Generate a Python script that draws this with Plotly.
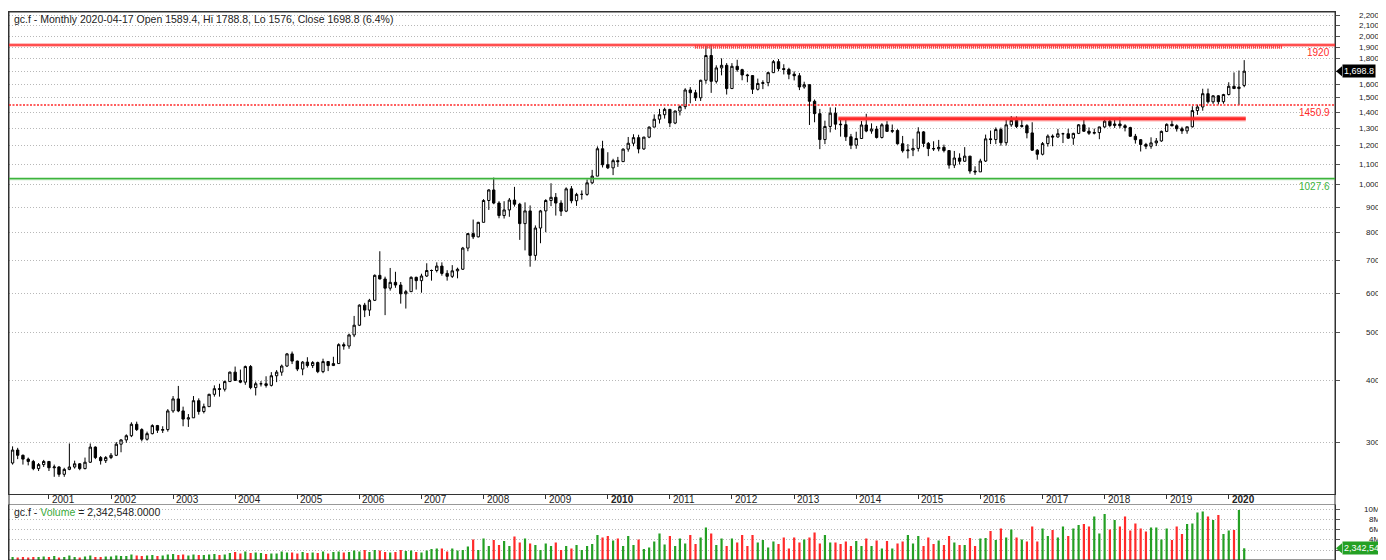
import math
import pandas as pd
import plotly.graph_objects as go

# ---------------- data (monthly gc.f, Jun 2000 .. Apr 2020) ----------------
first_month = "2000-06-01"

opens = [
    272, 289, 282, 277, 274, 265, 270,
    274, 266, 267, 258, 264, 267, 271, 265, 273, 293, 279, 275,
    279, 282, 297, 303, 309, 326, 318, 304, 312, 324, 317, 318,
    347, 367, 347, 334, 336, 364, 346, 354, 375, 385, 384, 398,
    416, 400, 397, 427, 387, 394, 394, 391, 409, 416, 428, 453,
    438, 422, 436, 429, 435, 417, 437, 429, 433, 473, 470, 495,
    518, 569, 556, 582, 654, 643, 616, 633, 625, 600, 606, 648,
    638, 652, 669, 669, 683, 660, 651, 668, 673, 743, 795, 783,
    838, 928, 975, 917, 865, 888, 930, 912, 833, 884, 718, 816,
    884, 928, 942, 917, 883, 980, 927, 955, 955, 1008, 1040, 1182,
    1097, 1081, 1118, 1113, 1180, 1213, 1245, 1181, 1248, 1308, 1357, 1386,
    1421, 1333, 1410, 1439, 1556, 1536, 1500, 1628, 1828, 1620, 1725, 1746,
    1566, 1738, 1711, 1669, 1664, 1561, 1604, 1610, 1687, 1776, 1719, 1713,
    1675, 1663, 1578, 1595, 1476, 1393, 1234, 1312, 1396, 1326, 1323, 1250,
    1202, 1240, 1321, 1284, 1296, 1246, 1322, 1282, 1287, 1210, 1171, 1175,
    1184, 1279, 1212, 1183, 1182, 1190, 1172, 1095, 1132, 1115, 1142, 1065,
    1061, 1116, 1238, 1234, 1293, 1216, 1322, 1350, 1312, 1317, 1273, 1174,
    1152, 1211, 1254, 1249, 1268, 1268, 1242, 1270, 1322, 1283, 1271, 1275,
    1309, 1345, 1318, 1327, 1316, 1305, 1253, 1233, 1206, 1196, 1215, 1226,
    1282, 1325, 1316, 1298, 1285, 1310, 1413, 1437, 1529, 1472, 1514, 1473,
    1523, 1583, 1566, 1589.4,
]
highs = [
    294, 292, 283, 279, 276, 272, 276,
    274, 270, 268, 266, 298, 275, 272, 279, 298, 294, 281, 281,
    285, 300, 304, 311, 329, 330, 320, 315, 326, 325, 323, 350,
    372, 390, 354, 342, 372, 368, 359, 376, 391, 394, 400, 417,
    427, 421, 429, 430, 398, 399, 408, 416, 420, 431, 455, 458,
    439, 438, 446, 438, 437, 443, 438, 447, 476, 478, 498, 541,
    571, 575, 586, 657, 732, 650, 677, 665, 634, 611, 651, 650,
    659, 692, 672, 695, 695, 670, 686, 678, 747, 797, 849, 840,
    934, 978, 1033, 925, 925, 939, 989, 918, 920, 907, 826, 888,
    934, 1006, 961, 929, 987, 993, 962, 973, 1024, 1071, 1195, 1227,
    1163, 1128, 1138, 1184, 1249, 1265, 1262, 1250, 1312, 1388, 1424, 1432,
    1424, 1413, 1448, 1569, 1577, 1557, 1632, 1911, 1923, 1746, 1804, 1764,
    1764, 1792, 1718, 1678, 1667, 1641, 1628, 1694, 1790, 1798, 1755, 1726,
    1697, 1684, 1617, 1598, 1488, 1424, 1348, 1434, 1434, 1362, 1362, 1267,
    1280, 1346, 1392, 1331, 1315, 1332, 1345, 1324, 1295, 1255, 1208, 1239,
    1307, 1284, 1220, 1224, 1232, 1205, 1175, 1170, 1157, 1191, 1143, 1089,
    1128, 1263, 1287, 1306, 1305, 1362, 1377, 1375, 1352, 1326, 1338, 1180,
    1220, 1264, 1264, 1297, 1274, 1298, 1274, 1327, 1362, 1306, 1299, 1310,
    1366, 1366, 1356, 1369, 1326, 1310, 1267, 1237, 1215, 1247, 1243, 1287,
    1331, 1349, 1325, 1310, 1310, 1442, 1453, 1565, 1566, 1518, 1519, 1528,
    1613, 1689, 1704, 1788.8,
]
lows = [
    270, 277, 270, 269, 263, 262, 267,
    262, 255, 255, 255, 263, 265, 263, 264, 272, 277, 270, 272,
    277, 281, 286, 299, 307, 316, 301, 302, 311, 313, 313, 315,
    344, 345, 323, 322, 336, 341, 343, 354, 371, 371, 380, 398,
    400, 395, 392, 384, 373, 389, 387, 389, 397, 409, 426, 432,
    418, 410, 425, 424, 414, 414, 418, 428, 433, 462, 464, 490,
    516, 538, 541, 580, 642, 543, 609, 617, 573, 560, 605, 612,
    603, 649, 638, 663, 653, 638, 646, 645, 671, 732, 775, 781,
    838, 888, 912, 854, 853, 860, 902, 772, 735, 681, 701, 760,
    800, 904, 865, 863, 879, 916, 905, 932, 949, 1002, 1040, 1083,
    1075, 1045, 1086, 1111, 1166, 1196, 1157, 1176, 1242, 1307, 1330, 1361,
    1308, 1326, 1381, 1422, 1462, 1478, 1478, 1602, 1535, 1604, 1666, 1523,
    1563, 1694, 1628, 1613, 1527, 1552, 1562, 1583, 1684, 1698, 1673, 1636,
    1627, 1555, 1565, 1321, 1338, 1180, 1208, 1276, 1292, 1251, 1226, 1180,
    1182, 1238, 1277, 1268, 1240, 1240, 1281, 1272, 1205, 1161, 1130, 1142,
    1167, 1191, 1142, 1170, 1168, 1162, 1077, 1080, 1098, 1112, 1052, 1046,
    1061, 1111, 1208, 1208, 1199, 1200, 1310, 1302, 1305, 1241, 1171, 1123,
    1146, 1194, 1196, 1244, 1214, 1237, 1204, 1266, 1279, 1261, 1264, 1236,
    1303, 1307, 1303, 1301, 1282, 1250, 1211, 1167, 1180, 1182, 1197, 1221,
    1278, 1313, 1281, 1267, 1268, 1305, 1385, 1412, 1460, 1458, 1454, 1459,
    1517, 1566, 1450.9, 1576,
]
closes = [
    289, 282, 277, 274, 265, 270, 274,
    266, 267, 258, 264, 267, 271, 265, 273, 293, 279, 275, 279,
    282, 297, 303, 309, 326, 318, 304, 312, 324, 317, 318, 347,
    367, 347, 334, 336, 364, 346, 354, 375, 385, 384, 398, 416,
    400, 397, 427, 387, 394, 394, 391, 409, 416, 428, 453, 438,
    422, 436, 429, 435, 417, 437, 429, 433, 473, 470, 495, 518,
    569, 556, 582, 654, 643, 616, 633, 625, 600, 606, 648, 638,
    652, 669, 669, 683, 660, 651, 668, 673, 743, 795, 783, 838,
    928, 975, 917, 865, 888, 930, 912, 833, 884, 718, 816, 884,
    928, 942, 917, 883, 980, 927, 955, 955, 1008, 1040, 1182, 1097,
    1081, 1118, 1113, 1180, 1213, 1245, 1181, 1248, 1308, 1357, 1386, 1421,
    1333, 1410, 1439, 1556, 1536, 1500, 1628, 1828, 1620, 1725, 1746, 1566,
    1738, 1711, 1669, 1664, 1561, 1604, 1610, 1687, 1776, 1719, 1713, 1675,
    1663, 1578, 1595, 1476, 1393, 1234, 1312, 1396, 1326, 1323, 1250, 1202,
    1240, 1321, 1284, 1296, 1246, 1322, 1282, 1287, 1210, 1171, 1175, 1184,
    1279, 1212, 1183, 1182, 1190, 1172, 1095, 1132, 1115, 1142, 1065, 1061,
    1116, 1238, 1234, 1293, 1216, 1322, 1350, 1312, 1317, 1273, 1174, 1152,
    1211, 1254, 1249, 1268, 1268, 1242, 1270, 1322, 1283, 1271, 1275, 1309,
    1345, 1318, 1327, 1316, 1305, 1253, 1233, 1206, 1196, 1215, 1226, 1282,
    1325, 1316, 1298, 1285, 1310, 1413, 1437, 1529, 1472, 1514, 1473, 1523,
    1583, 1566, 1577, 1698.8,
]
volumes_m = [
    0.6, 0.5, 0.6, 0.5, 0.6, 0.6, 0.7,
    0.6, 0.8, 0.5, 0.6, 0.9, 0.6, 0.5, 0.7, 0.9, 0.6, 0.6, 0.7,
    0.7, 0.9, 0.8, 0.8, 1.1, 0.9, 0.8, 0.9, 1.0, 0.8, 0.9, 1.1,
    1.2, 1.0, 1.1, 0.9, 1.1, 1.0, 1.0, 1.1, 1.2, 1.0, 1.1, 1.4,
    1.6, 1.3, 1.7, 1.4, 1.5, 1.4, 1.2, 1.3, 1.3, 1.7, 1.5, 1.5,
    1.3, 1.6, 1.4, 1.5, 1.4, 1.7, 1.3, 1.6, 1.7, 1.5, 1.6, 1.9,
    1.7, 2.0, 1.6, 2.0, 1.9, 1.6, 1.5, 1.6, 2.0, 1.8, 1.9, 1.6,
    1.5, 1.9, 2.2, 2.3, 2.3, 1.7, 2.3, 1.9, 2.0, 2.7, 4.1, 2.0,
    4.3, 2.8, 4.0, 3.0, 3.8, 2.8, 4.7, 3.5, 4.3, 3.3, 3.0, 2.0,
    3.3, 2.8, 3.5, 2.0, 2.8, 2.3, 3.0, 2.0, 2.8, 3.2, 5.0, 4.5,
    4.8, 3.9, 4.3, 2.8, 4.8, 3.0, 4.1, 2.2, 2.5, 3.7, 5.3, 3.1,
    4.8, 2.8, 4.3, 3.3, 5.0, 3.2, 4.5, 6.5, 5.3, 3.0, 4.3, 2.8,
    4.3, 3.5, 5.0, 2.8, 5.0, 3.5, 4.0, 2.5, 3.7, 3.2, 4.5, 2.3,
    4.5, 3.5, 4.1, 4.5, 5.5, 3.3, 5.0, 3.5, 3.5, 3.2, 3.7, 2.8,
    3.8, 2.8, 4.3, 2.8, 3.9, 2.3, 3.8, 2.3, 3.3, 3.7, 5.0, 3.3,
    4.8, 2.8, 4.5, 3.2, 3.9, 3.0, 4.8, 3.5, 3.0, 3.0, 4.4, 2.8,
    4.3, 4.4, 5.8, 4.0, 6.3, 4.5, 6.1, 4.5, 4.1, 3.7, 6.7, 3.7,
    6.3, 4.8, 6.0, 4.5, 6.7, 4.8, 6.3, 7.0, 7.2, 6.7, 8.7, 5.3,
    9.2, 6.1, 8.0, 6.7, 8.7, 5.9, 7.3, 6.3, 5.7, 6.5, 6.5, 4.1,
    6.3, 4.0, 6.7, 5.2, 7.2, 7.3, 9.5, 9.7, 8.7, 8.0, 9.0, 5.2,
    5.9, 6.0, 10.0, 2.342548,
]

price_ticks = [300, 400, 500, 600, 700, 800, 900, 1000, 1100, 1200, 1300,
               1400, 1500, 1600, 1700, 1800, 1900, 2000, 2100, 2200]
hidden_price_labels = {1700}          # covered by the last-price tag
volume_ticks = [2e6, 4e6, 6e6, 8e6, 10e6]
volume_labels = {10e6: "10M", 8e6: "8M", 6e6: "6M", 4e6: "4M"}
years = list(range(2001, 2021))
bold_years = {2010, 2020}

level_top = 1920
level_mid = 1450.9
level_low = 1027.6
level_resist = 1360
level_hatch = 1902
last_close = 1698.8
last_volume = 2342548

title_text = "gc.f - Monthly 2020-04-17 Open 1589.4, Hi 1788.8, Lo 1576, Close 1698.8 (6.4%)"

n = len(closes)
assert len(opens) == n and len(highs) == n and len(lows) == n and len(volumes_m) == n

dates = pd.date_range(first_month, periods=n, freq="MS")
volumes = [v * 1e6 for v in volumes_m]

GREEN = "#24a024"
RED = "#ff2a2a"
vol_colors = [GREEN if c >= o else RED for o, c in zip(opens, closes)]

FONT = "Liberation Sans, Arial, sans-serif"
GRID = dict(showgrid=True, gridcolor="#b8b8b8", gridwidth=1, griddash="1px,2px")

fig = go.Figure()
fig.add_trace(go.Candlestick(
    x=dates, open=opens, high=highs, low=lows, close=closes,
    increasing=dict(line=dict(color="black", width=1), fillcolor="white"),
    decreasing=dict(line=dict(color="black", width=1), fillcolor="black"),
    whiskerwidth=0, showlegend=False, hoverinfo="skip",
    xaxis="x", yaxis="y",
))
fig.add_trace(go.Bar(
    x=dates, y=volumes, marker=dict(color=vol_colors, line=dict(width=0)),
    width=13 * 86400000, showlegend=False, hoverinfo="skip",
    xaxis="x2", yaxis="y2",
))

x_range = ["2000-05-11", "2021-09-17"]
main_bottom = 0.1204
vol_top = 0.1004

# the page body has an 8px margin: size the figure so it ends at the window edge
fig.update_layout(
    width=1378, height=552,
    margin=dict(l=1, r=51, t=4, b=0),
    paper_bgcolor="white", plot_bgcolor="white",
    font=dict(family=FONT, size=10, color="#222"),
    showlegend=False,
    xaxis=dict(
        domain=[0, 1], anchor="y", type="date", range=x_range,
        rangeslider=dict(visible=False), showgrid=False, zeroline=False,
        showline=True, linecolor="#333", linewidth=1, mirror=True,
        ticks="outside", ticklen=4, tickcolor="#333",
        tickvals=[f"{y}-01-01" for y in years], showticklabels=False,
    ),
    yaxis=dict(
        domain=[main_bottom, 1], anchor="x", type="log",
        range=[2.3716, 3.3503], side="right",
        showline=True, linecolor="#333", linewidth=1, mirror=True,
        ticks="outside", ticklen=4, tickcolor="#555",
        tickvals=price_ticks, showticklabels=False, zeroline=False, **GRID,
    ),
    xaxis2=dict(
        domain=[0, 1], anchor="y2", type="date", matches="x",
        showgrid=False, zeroline=False, showline=True, linecolor="#999",
        mirror=True, ticks="", showticklabels=False,
    ),
    yaxis2=dict(
        domain=[0, vol_top], anchor="x2", range=[0, 11e6], side="right",
        showline=True, linecolor="#333", mirror=True,
        ticks="outside", ticklen=4, tickcolor="#555",
        tickvals=volume_ticks, showticklabels=False, zeroline=False, **GRID,
    ),
)

shapes = []
shapes.append(dict(type="rect", xref="paper", yref="paper", x0=0, x1=1, y0=0, y1=1,
                   line=dict(color="#333", width=1), layer="above"))
shapes.append(dict(type="line", xref="paper", yref="y", x0=0, x1=1, y0=level_top, y1=level_top,
                   line=dict(color="rgba(255,40,40,0.3)", width=4)))
shapes.append(dict(type="line", xref="paper", yref="y", x0=0, x1=1, y0=level_top, y1=level_top,
                   line=dict(color=RED, width=1.5)))
shapes.append(dict(type="line", xref="x", yref="y", x0="2011-05-28", x1="2020-11-10",
                   y0=level_hatch, y1=level_hatch,
                   line=dict(color="#ff3030", width=3.5, dash="1px,1px")))
shapes.append(dict(type="line", xref="paper", yref="y", x0=0, x1=1, y0=level_mid, y1=level_mid,
                   line=dict(color=RED, width=1.5, dash="2px,1.5px")))
shapes.append(dict(type="line", xref="x", yref="y", x0="2013-09-18", x1="2020-04-10",
                   y0=level_resist, y1=level_resist,
                   line=dict(color="rgba(255,40,40,0.35)", width=5.5)))
shapes.append(dict(type="line", xref="x", yref="y", x0="2013-09-18", x1="2020-04-10",
                   y0=level_resist, y1=level_resist,
                   line=dict(color=RED, width=3)))
shapes.append(dict(type="line", xref="paper", yref="y", x0=0, x1=1, y0=level_low, y1=level_low,
                   line=dict(color="rgba(60,180,60,0.35)", width=3)))
shapes.append(dict(type="line", xref="paper", yref="y", x0=0, x1=1, y0=level_low, y1=level_low,
                   line=dict(color="#3cb43c", width=1.3)))
shapes.append(dict(type="path", xref="paper", yref="y", xsizemode="pixel", ysizemode="pixel",
                   xanchor=1, yanchor=last_close,
                   path="M1,0 L7,5 L7,-5 Z", fillcolor="black", line=dict(width=0)))
shapes.append(dict(type="path", xref="paper", yref="y2", xsizemode="pixel", ysizemode="pixel",
                   xanchor=1, yanchor=last_volume,
                   path="M1,0 L7,5 L7,-5 Z", fillcolor=GREEN, line=dict(width=0)))
fig.update_layout(shapes=shapes)

ann = []
label_x = 1.0354
ann.append(dict(xref="paper", yref="paper", x=0.002, y=1, xanchor="left", yanchor="top",
                yshift=1, text=title_text, showarrow=False,
                font=dict(family=FONT, size=10.5, color="#222")))
ann.append(dict(xref="paper", yref="paper", x=0.002, y=vol_top, xanchor="left", yanchor="top",
                yshift=1,
                text="gc.f - <span style='color:#3aaa3a'>Volume</span> = 2,342,548.0000",
                showarrow=False, font=dict(family=FONT, size=10.5, color="#222")))
for v in price_ticks:
    if v in hidden_price_labels:
        continue
    ann.append(dict(xref="paper", yref="y", x=label_x, y=math.log10(v), xanchor="right",
                    yanchor="middle", text=f"{v:,}", showarrow=False,
                    font=dict(family=FONT, size=8, color="#222")))
for v, t in volume_labels.items():
    ann.append(dict(xref="paper", yref="y2", x=label_x, y=v, xanchor="right",
                    yanchor="middle", text=t, showarrow=False,
                    font=dict(family=FONT, size=8, color="#222")))
for y in years:
    txt = f"<b>{y}</b>" if y in bold_years else str(y)
    ann.append(dict(xref="x", yref="paper", x=f"{y}-01-01", y=0.1104, xanchor="left",
                    yanchor="middle", xshift=1, text=txt, showarrow=False,
                    font=dict(family=FONT, size=10, color="#222")))
for val, txt, col in [(level_top, "1920", RED), (level_mid, "1450.9", RED),
                      (level_low, "1027.6", "#3cb43c")]:
    ann.append(dict(xref="paper", yref="y", x=1, y=math.log10(val), xanchor="right",
                    yanchor="top", xshift=-3, yshift=0, text=txt, showarrow=False,
                    font=dict(family=FONT, size=10, color=col)))
ann.append(dict(xref="paper", yref="y", x=1, y=math.log10(last_close), xanchor="left",
                yanchor="middle", xshift=7, text=f"{last_close:,.1f}", showarrow=False,
                bgcolor="black", borderpad=1,
                font=dict(family=FONT, size=9, color="white")))
ann.append(dict(xref="paper", yref="y2", x=1, y=last_volume, xanchor="left",
                yanchor="middle", xshift=7, text=f"{last_volume:,}", showarrow=False,
                bgcolor=GREEN, borderpad=1,
                font=dict(family=FONT, size=9, color="white")))
fig.update_layout(annotations=ann)

fig.write_html("out.html")
